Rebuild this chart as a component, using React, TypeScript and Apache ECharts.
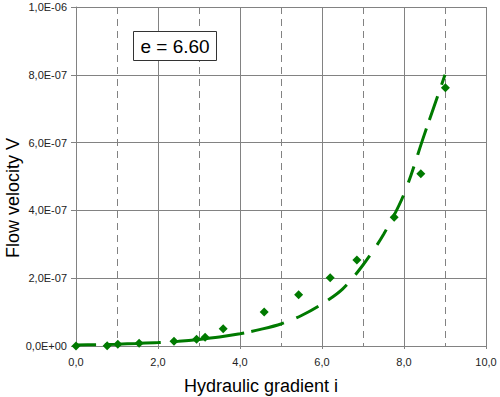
import React, { useEffect, useRef } from "react";
import * as echarts from "echarts";

// Measured points (hydraulic gradient i, flow velocity V)
const gradientI = [0, 0.76, 1.02, 1.54, 2.39, 2.94, 3.15, 3.59, 4.59, 5.43, 6.2, 6.85, 7.76, 8.41, 9.01];
const velocityV = [0, 0.1e-8, 0.5e-8, 0.8e-8, 1.4e-8, 2.0e-8, 2.6e-8, 5.1e-8, 1.0e-7, 1.51e-7, 2.01e-7, 2.54e-7, 3.8e-7, 5.08e-7, 7.62e-7];

// Trend line
const trendI = [0, 0.5, 1, 1.5, 2, 2.5, 3, 3.5, 4, 4.5, 5, 5.5, 6, 6.5, 7, 7.5, 8, 8.5, 9];
const trendV = [
  0.3e-8, 0.4e-8, 0.55e-8, 0.75e-8, 1.0e-8, 1.4e-8, 1.95e-8, 2.65e-8, 3.6e-8, 4.9e-8,
  6.5e-8, 9.0e-8, 1.24e-7, 1.68e-7, 2.39e-7, 3.29e-7, 4.48e-7, 6.25e-7, 8.0e-7,
];

const xTitle = "Hydraulic gradient i";
const yTitle = "Flow velocity V";
const boxLabel = "e = 6.60";

const FONT = 'Arial, "Liberation Sans", sans-serif';
const GREEN = "#007a00";
const GRID = "#828282";

function fmtY(v: number): string {
  if (v === 0) return "0,0E+00";
  const s = v.toExponential(1);
  const [m, e] = s.split("e");
  const n = parseInt(e, 10);
  const sign = n < 0 ? "-" : "+";
  return m.replace(".", ",") + "E" + sign + String(Math.abs(n)).padStart(2, "0");
}

export default function App() {
  const ref = useRef<HTMLDivElement>(null);
  useEffect(() => {
    if (!ref.current) return;
    const chart = echarts.init(ref.current, undefined, { renderer: "svg" });
    chart.setOption({
      animation: false,
      backgroundColor: "#ffffff",
      grid: { left: 76, right: 14, top: 7, bottom: 51, containLabel: false },
      xAxis: {
        type: "value",
        min: 0,
        max: 10,
        interval: 2,
        axisLine: { show: true, lineStyle: { color: GRID, width: 1 } },
        axisTick: { show: true, length: 3, lineStyle: { color: GRID } },
        axisLabel: {
          margin: 10,
          fontSize: 11,
          color: "#222",
          fontFamily: FONT,
          formatter: (v: number) => v.toFixed(1).replace(".", ","),
        },
        splitLine: { show: true, lineStyle: { color: GRID, width: 1 } },
        minorTick: { show: false, splitNumber: 2 },
        minorSplitLine: { show: true, lineStyle: { color: GRID, width: 1, type: [7, 5] } },
      },
      yAxis: {
        type: "value",
        min: 0,
        max: 1e-6,
        interval: 2e-7,
        axisLine: { show: true, lineStyle: { color: GRID, width: 1 } },
        axisTick: { show: true, length: 5, lineStyle: { color: GRID } },
        axisLabel: {
          margin: 9,
          fontSize: 11,
          color: "#222",
          fontFamily: FONT,
          formatter: fmtY,
        },
        splitLine: { show: true, lineStyle: { color: GRID, width: 1 } },
      },
      series: [
        {
          type: "line",
          data: trendI.map((x, i) => [x, trendV[i]]),
          smooth: 0.3,
          showSymbol: false,
          symbol: "none",
          lineStyle: {
            color: GREEN,
            width: 3,
            cap: "butt",
            type: [20, 9, 56, 12, 72, 7, 34, 13, 25, 12, 24, 13, 24, 13, 18, 14, 24, 14, 17, 12, 28, 9, 25, 12, 30, 12],
          },
          z: 2,
        },
        {
          type: "scatter",
          data: gradientI.map((x, i) => [x, velocityV[i]]),
          symbol: "diamond",
          symbolSize: 9,
          itemStyle: { color: GREEN, opacity: 1 },
          z: 3,
        },
      ],
      graphic: [
        {
          type: "text",
          x: 261,
          y: 386,
          style: { text: xTitle, fontSize: 18, fontFamily: FONT, fill: "#000", align: "center", verticalAlign: "middle" },
        },
        {
          type: "text",
          x: 13,
          y: 198,
          rotation: Math.PI / 2,
          style: { text: yTitle, fontSize: 18, fontFamily: FONT, fill: "#000", align: "center", verticalAlign: "middle" },
        },
        {
          type: "rect",
          shape: { x: 133.5, y: 31.5, width: 83, height: 29 },
          style: { fill: "#ffffff", stroke: "#333", lineWidth: 1 },
          z: 10,
        },
        {
          type: "text",
          x: 175,
          y: 46.5,
          style: { text: boxLabel, fontSize: 19, fontFamily: FONT, fill: "#000", align: "center", verticalAlign: "middle" },
          z: 11,
        },
      ],
    });
    return () => chart.dispose();
  }, []);
  return <div ref={ref} style={{ position: "absolute", left: 0, top: 0, width: 500, height: 397 }} />;
}
